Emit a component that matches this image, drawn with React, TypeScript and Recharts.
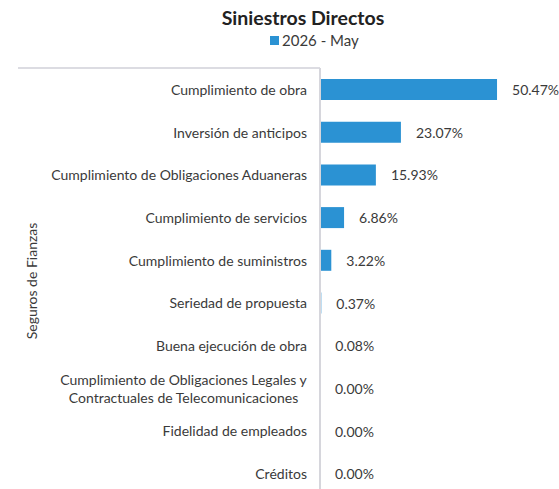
import React from 'react';
import { BarChart, Bar, XAxis, YAxis, LabelList } from 'recharts';

const categories: string[] = [
  'Cumplimiento de obra',
  'Inversión de anticipos',
  'Cumplimiento de Obligaciones Aduaneras',
  'Cumplimiento de servicios',
  'Cumplimiento de suministros',
  'Seriedad de propuesta',
  'Buena ejecución de obra',
  'Cumplimiento de Obligaciones Legales y\nContractuales de Telecomunicaciones',
  'Fidelidad de empleados',
  'Créditos',
];
const values: number[] = [50.47, 23.07, 15.93, 6.86, 3.22, 0.37, 0.08, 0, 0, 0];
const seriesName = '2026 - May';
const title = 'Siniestros Directos';
const groupLabel = 'Seguros de Fianzas';

const data = categories.map((name, i) => ({ name, value: values[i] }));

const FONT = 'Lato, "Noto Sans", sans-serif';
const BLUE = '#2B92D3';
const TEXT = '#3a3a3a';

let ctx: CanvasRenderingContext2D | null = null;
const measure = (s: string): number => {
  if (!ctx && typeof document !== 'undefined') {
    ctx = document.createElement('canvas').getContext('2d');
  }
  if (!ctx) return s.length * 6.8;
  ctx.font = `14px ${FONT}`;
  return ctx.measureText(s).width;
};

const Tick = (props: any) => {
  const { x, y, payload } = props;
  const lines = String(payload.value).split('\n');
  const lh = 18;
  const y0 = y - ((lines.length - 1) * lh) / 2;
  if (lines.length === 1) {
    return (
      <text x={x - 5} y={y} textAnchor="end" fill={TEXT} fontFamily={FONT} fontSize={14} dominantBaseline="central">
        {lines[0]}
      </text>
    );
  }
  const maxW = Math.max(...lines.map(measure));
  const cx = x - 5 - maxW / 2;
  return (
    <text x={cx} y={y0} textAnchor="middle" fill={TEXT} fontFamily={FONT} fontSize={14} dominantBaseline="central">
      {lines.map((l, i) => (
        <tspan key={i} x={cx} y={y0 + i * lh} dominantBaseline="central">{l}</tspan>
      ))}
    </text>
  );
};

const ValueLabel = (props: any) => {
  const { x, y, width, height, value } = props;
  return (
    <text x={Number(x) + Math.max(0, Number(width)) + 15} y={Number(y) + Number(height) / 2} dominantBaseline="central" fill={TEXT} fontFamily={FONT} fontSize={14}>
      {`${Number(value).toFixed(2)}%`}
    </text>
  );
};

export default function App() {
  return (
    <div style={{ position: 'fixed', left: 0, top: 0, width: 559, height: 489, overflow: 'hidden', background: '#fff' }}>
      <div style={{ position: 'absolute', left: 0, top: 6, width: 606, textAlign: 'center', fontFamily: FONT, fontWeight: 700, fontSize: 19.5, color: '#222' }}>
        {title}
      </div>
      <div style={{ position: 'absolute', left: 270, top: 31, display: 'flex', alignItems: 'center', fontFamily: FONT, fontSize: 15, color: TEXT, whiteSpace: 'nowrap' }}>
        <span style={{ display: 'inline-block', width: 9, height: 9, background: BLUE, marginRight: 3 }} />
        <span>{seriesName}</span>
      </div>
      <div style={{ position: 'absolute', left: 18, top: 67, width: 302, height: 2, background: '#dcdce2' }} />
      <div style={{ position: 'absolute', left: 31, top: 281, width: 0, height: 0 }}>
        <div style={{ position: 'absolute', transform: 'translate(-50%, -50%) rotate(-90deg)', whiteSpace: 'nowrap', fontFamily: FONT, fontSize: 14, color: TEXT }}>
          {groupLabel}
        </div>
      </div>
      <BarChart
        width={559}
        height={495}
        data={data}
        layout="vertical"
        margin={{ top: 68, right: 11, bottom: 0, left: 0 }}
        barCategoryGap={0}
      >
        <XAxis type="number" hide domain={[0, 65]} />
        <YAxis
          type="category"
          dataKey="name"
          width={320}
          axisLine={{ stroke: '#d6d6dc', strokeWidth: 2 }}
          tickLine={false}
          tick={<Tick />}
          interval={0}
        />
        <Bar dataKey="value" name={seriesName} fill={BLUE} barSize={21} minPointSize={0.01} isAnimationActive={false}>
          <LabelList dataKey="value" content={<ValueLabel />} />
        </Bar>
      </BarChart>
    </div>
  );
}
